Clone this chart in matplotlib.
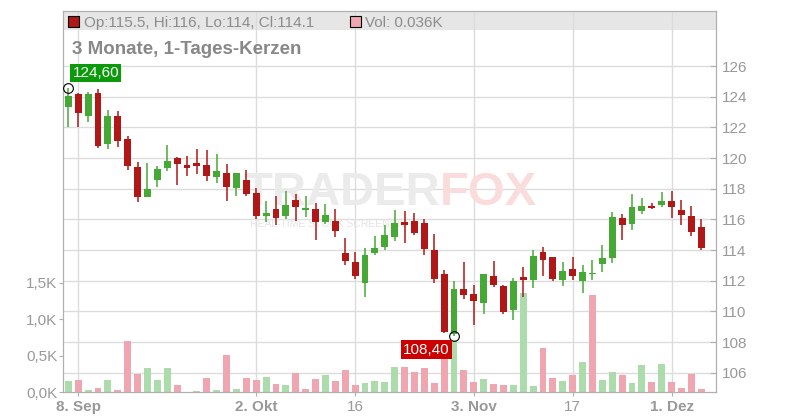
import numpy as np
import pandas as pd
import matplotlib
matplotlib.use("Agg")
import matplotlib.pyplot as plt
from matplotlib import transforms
from matplotlib.patches import Rectangle

plt.rcParams['font.family'] = ['Liberation Sans', 'DejaVu Sans']

# Daily candles, 3 months
dates = pd.bdate_range('2025-09-05', periods=65)
opens = [123.35, 124.19, 122.76, 124.24, 120.93, 122.74, 121.24, 119.41, 117.47, 118.58,
         119.37, 120.02, 119.54, 119.67, 119.54, 118.78, 119.02, 118.06, 118.56, 117.74,
         116.23, 116.67, 116.23, 117.26, 116.63, 116.67, 115.84, 115.89, 113.80, 113.21,
         111.86, 113.82, 114.21, 114.87, 115.82, 115.89, 115.76, 114.00, 112.43, 108.55,
         111.45, 111.13, 110.56, 112.30, 111.65, 110.10, 112.24, 112.04, 113.87, 113.54,
         112.04, 112.76, 111.98, 112.43, 113.08, 113.48, 116.08, 115.69, 116.54, 116.87,
         116.93, 117.20, 116.61, 116.22, 115.50]
highs = [124.60, 124.22, 124.30, 124.50, 123.13, 123.06, 121.43, 119.74, 119.67, 119.48,
         120.85, 120.08, 120.13, 120.59, 120.52, 120.26, 119.61, 119.02, 119.22, 118.04,
         117.19, 117.52, 117.85, 117.65, 117.52, 117.06, 117.00, 116.67, 114.78, 113.87,
         114.13, 114.91, 115.63, 116.61, 116.54, 116.41, 116.02, 115.04, 112.69, 111.98,
         113.23, 111.72, 112.45, 113.28, 111.70, 112.17, 112.89, 114.00, 114.19, 113.56,
         113.21, 113.54, 113.02, 113.35, 114.32, 116.48, 116.35, 117.65, 117.39, 117.06,
         117.78, 117.85, 117.26, 116.87, 116.00]
lows = [122.04, 122.04, 122.37, 120.63, 120.57, 120.74, 119.24, 117.15, 117.47, 118.13,
        119.17, 118.26, 118.83, 118.96, 118.52, 118.39, 117.21, 117.54, 117.54, 116.02,
        115.84, 115.63, 116.04, 115.91, 116.17, 114.67, 115.71, 114.87, 113.04, 112.12,
        110.95, 113.67, 114.00, 114.60, 114.43, 115.00, 113.69, 111.86, 108.60, 108.40,
        110.82, 109.12, 109.84, 111.60, 109.84, 109.45, 110.95, 111.52, 112.32, 111.98,
        111.65, 112.04, 111.19, 112.04, 112.56, 113.15, 114.65, 115.30, 116.35, 116.67,
        116.80, 116.08, 115.63, 114.91, 114.00]
closes = [124.06, 122.95, 124.19, 120.80, 122.74, 121.13, 119.50, 117.47, 117.98, 119.28,
          119.80, 119.63, 119.37, 119.50, 118.84, 119.15, 118.13, 119.02, 117.67, 116.23,
          116.41, 116.08, 116.93, 116.78, 116.72, 115.84, 116.28, 115.26, 113.30, 112.32,
          113.67, 114.13, 114.98, 115.76, 115.65, 115.13, 114.08, 112.12, 108.65, 111.45,
          111.08, 110.69, 112.43, 111.73, 109.95, 111.98, 112.05, 113.61, 113.37, 112.11,
          112.63, 112.30, 112.56, 112.50, 113.48, 116.15, 115.63, 116.80, 116.87, 116.74,
          117.20, 116.80, 116.28, 115.19, 114.10]
# volume in thousands
volumes = [0.147, 0.161, 0.023, 0.051, 0.161, 0.023, 0.697, 0.243, 0.326, 0.161,
           0.326, 0.092, 0.0, 0.010, 0.188, 0.023, 0.505, 0.037, 0.188, 0.161,
           0.202, 0.106, 0.092, 0.257, 0.037, 0.175, 0.230, 0.147, 0.298, 0.092,
           0.120, 0.147, 0.133, 0.340, 0.340, 0.271, 0.326, 0.120, 0.550, 0.720,
           0.298, 0.133, 0.175, 0.106, 0.092, 0.092, 1.357, 0.078, 0.600, 0.188,
           0.147, 0.230, 0.410, 1.330, 0.161, 0.271, 0.230, 0.120, 0.367, 0.133,
           0.380, 0.133, 0.051, 0.243, 0.036]

tick_dates = ['2025-09-08', '2025-10-02', '2025-10-16', '2025-11-03', '2025-11-17', '2025-12-01']
tick_labels = ['8. Sep', '2. Okt', '16', '3. Nov', '17', '1. Dez']
price_ticks = list(range(106, 127, 2))
vol_ticks = [0, 0.5, 1.0, 1.5]
vol_labels = ['0,0K', '0,5K', '1,0K', '1,5K']

RED = '#b01717'
GREEN = '#46a935'
PINK = '#f0a6b0'
LGREEN = '#acdcac'
GRID = '#dcdcdc'
TXT = '#999999'

x = np.arange(len(dates))
o, h, l, c = map(np.array, (opens, highs, lows, closes))
tick_pos = [dates.get_loc(pd.Timestamp(d)) for d in tick_dates]

W, H = 800, 420
fig = plt.figure(figsize=(8, 4.2), dpi=100)
ax = fig.add_axes([63 / W, 28 / H, 653 / W, 381 / H])
ax2 = ax.twinx()

ax.set_xlim(-0.54, 65.49)
ax.set_ylim(0, 5.24)
ax2.set_ylim(104.74, 129.59)

# header strip
ax.add_patch(Rectangle((0, 0.95), 1, 0.05, transform=ax.transAxes,
                       facecolor='#e6e6e6', edgecolor='none', zorder=0.2))

# grid
for t in tick_pos:
    ax.axvline(t, color=GRID, lw=1, zorder=0.5)
blend = transforms.blended_transform_factory(ax.transAxes, ax2.transData)
for t in price_ticks:
    ax.plot([0, 1], [t, t], transform=blend, color=GRID, lw=1, zorder=0.5)

# watermark
ax.text(440 / W, 1 - 205 / H, 'TRADER', transform=fig.transFigure, ha='right', va='baseline',
        fontsize=34, fontweight='bold', color='#ebebeb', zorder=0.8)
ax.text(440 / W, 1 - 205 / H, 'FOX', transform=fig.transFigure, ha='left', va='baseline',
        fontsize=34, fontweight='bold', color='#fbdcdc', zorder=0.8)
ax.text(250 / W, 1 - 227 / H, 'REAL-TIME STOCK SCREENING', transform=fig.transFigure,
        ha='left', va='baseline', fontsize=7.5, color='#e4e4e4', zorder=0.8)

# volume
vol_up = [c[i] >= (c[i - 1] if i > 0 else o[i]) for i in range(len(c))]
ax.bar(x, volumes, width=0.7, color=[LGREEN if u else PINK for u in vol_up], zorder=2)

# candles
cols = [GREEN if cc >= oo else RED for oo, cc in zip(o, c)]
ax2.vlines(x, l, h, colors=cols, lw=1.1, zorder=2)
body = np.maximum(np.abs(c - o), 0.08)
ax2.bar(x, body, bottom=np.minimum(o, c), width=0.7, color=cols, zorder=3)

# high / low markers
hi = int(np.argmax(h))
lo = int(np.argmin(l))
ax2.plot(x[hi], h[hi], 'o', ms=7, mfc='none', mec='black', mew=0.8, zorder=5)
ax2.plot(x[lo], l[lo], 'o', ms=7, mfc='none', mec='black', mew=0.8, zorder=5)
ax2.annotate(f"{h[hi]:.2f}".replace('.', ','), (x[hi], h[hi]), xytext=(3, 5.5),
             textcoords='offset points', ha='left', va='bottom', fontsize=11, color='white',
             bbox=dict(boxstyle='square,pad=0.15', fc='#0a9a0a', ec='none'), zorder=6)
ax2.annotate(f"{l[lo]:.2f}".replace('.', ','), (x[lo], l[lo]), xytext=(-3.3, -4.8),
             textcoords='offset points', ha='right', va='top', fontsize=11, color='white',
             bbox=dict(boxstyle='square,pad=0.15', fc='#cc0000', ec='none'), zorder=6)

# axes styling
for a in (ax, ax2):
    for s in a.spines.values():
        s.set_color('#b0b0b0')
ax.set_xticks(tick_pos)
ax.set_xticklabels(tick_labels)
for lab in ax.get_xticklabels():
    if '.' in lab.get_text():
        lab.set_fontweight('bold')
ax.tick_params(axis='x', colors=TXT, labelsize=11, length=3, direction='out', pad=3,
               color='#b0b0b0')
ax.set_yticks(vol_ticks)
ax.set_yticklabels(vol_labels)
ax.tick_params(axis='y', colors=TXT, labelsize=11, length=3, direction='out', pad=1,
               color='#b0b0b0')
ax2.set_yticks(price_ticks)
ax2.tick_params(axis='y', colors=TXT, labelsize=11, length=4, direction='in', pad=4,
                color='#b0b0b0')
for lab in ax.get_yticklabels() + ax.get_xticklabels() + ax2.get_yticklabels():
    lab.set_color(TXT)

# header texts
fig.add_artist(Rectangle((68 / W, 1 - 27 / H), 11 / W, 11 / H, transform=fig.transFigure,
                         facecolor=RED, edgecolor='black', lw=0.8))
fig.text(84 / W, 1 - 27 / H, 'Op:115.5, Hi:116, Lo:114, Cl:114.1', fontsize=11,
         color='#8c8c8c', va='baseline')
fig.add_artist(Rectangle((350 / W, 1 - 27 / H), 11 / W, 11 / H, transform=fig.transFigure,
                         facecolor=PINK, edgecolor='black', lw=0.8))
fig.text(365 / W, 1 - 27 / H, 'Vol: 0.036K', fontsize=11, color='#8c8c8c', va='baseline')
fig.text(72 / W, 1 - 54 / H, '3 Monate, 1-Tages-Kerzen', fontsize=13.5, fontweight='bold',
         color='#888888', va='baseline')

fig.savefig('out.png', dpi=100)
